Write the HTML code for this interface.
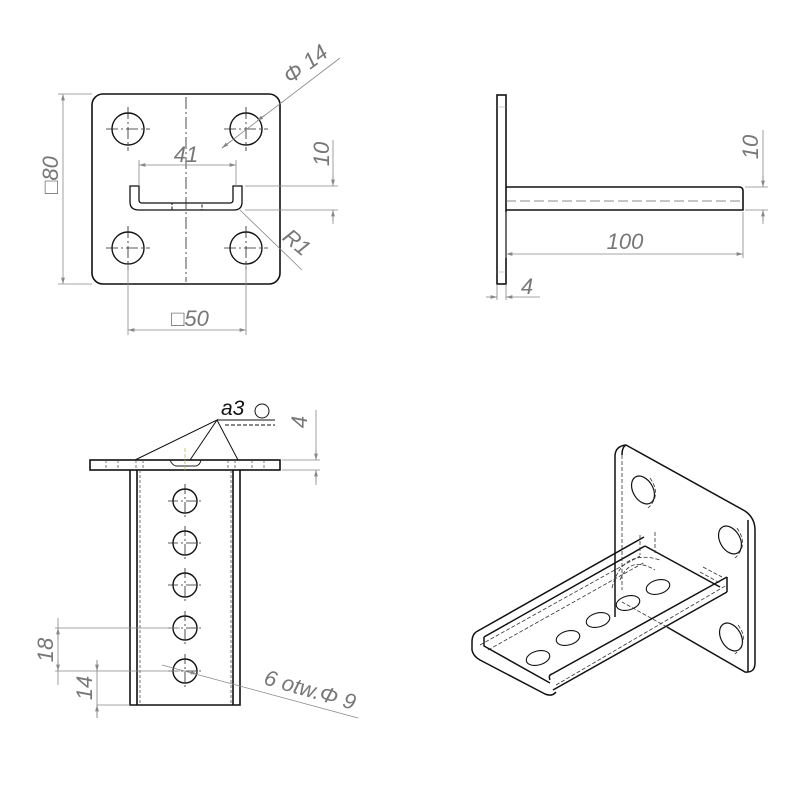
<!DOCTYPE html>
<html><head><meta charset="utf-8"><style>
html,body{margin:0;padding:0;background:#fff}
svg{display:block}
text{font-family:"Liberation Sans",sans-serif;font-style:italic;fill:#777}
</style></head><body>
<svg width="794" height="794" viewBox="0 0 794 794" xmlns="http://www.w3.org/2000/svg">
<defs>
<marker id="a" viewBox="0 0 10 6" refX="10" refY="3" markerWidth="8" markerHeight="5" orient="auto-start-reverse"><path d="M0,0L10,3L0,6z" fill="#888"/></marker>
</defs>
<!-- ============ TOP LEFT VIEW ============ -->
<g fill="none" stroke="#111" stroke-width="1.6">
<rect x="92" y="94" width="188" height="190" rx="11"/>
<g stroke-width="1.4">
<circle cx="128" cy="129" r="16"/><circle cx="246" cy="129" r="16"/>
<circle cx="128" cy="248" r="16"/><circle cx="246" cy="248" r="16"/>
</g>
<path d="M130,186 L139,186 L139,200 Q139,203 142,203 L230,203 Q233,203 233,200 L233,186 L242,186 L242,202 Q242,210 234,210 L139,210 Q130,210 130,202 Z" stroke-width="1.3"/>
<rect x="172" y="203" width="30" height="7" stroke-width="1" stroke-dasharray="3,1.5"/>
</g>
<g stroke="#222" stroke-width="0.8" fill="none" stroke-dasharray="12,3,2,3">
<path d="M186,97V282"/>
<path d="M106,129H150M128,107V151M224,129H268M246,107V151M106,248H150M128,226V270M224,248H268M246,226V270"/>
</g>
<g stroke="#888" stroke-width="0.8" fill="none">
<path d="M63,94V284" marker-start="url(#a)" marker-end="url(#a)"/>
<path d="M58,94H92M58,284H92"/>
<path d="M139,165H236" marker-start="url(#a)" marker-end="url(#a)"/>
<path d="M139,160V186M236,160V186"/>
<path d="M245,186H338M245,210H338M333,140V186M333,210V224"/>
<path d="M333,175V186" marker-end="url(#a)"/><path d="M333,221V210" marker-end="url(#a)"/>
<path d="M340,58L222,148" /><path d="M265,115L257,121" marker-end="url(#a)"/><path d="M222,148L231,141" marker-start="url(#a)"/>
<path d="M240,210L302,270"/>
<path d="M128,264V335M246,264V335"/>
<path d="M128,330H246" marker-start="url(#a)" marker-end="url(#a)"/>
</g>
<text x="186" y="162" font-size="22" text-anchor="middle">41</text>
<text x="190" y="326" font-size="22" text-anchor="middle">□50</text>
<text transform="translate(58,175) rotate(-90)" font-size="22" text-anchor="middle">□80</text>
<text transform="translate(329,154) rotate(-90)" font-size="22" text-anchor="middle">10</text>
<text transform="translate(310,70) rotate(-37)" font-size="22" text-anchor="middle">Φ 14</text>
<text transform="translate(292,248) rotate(40)" font-size="22" text-anchor="middle">R1</text>

<!-- ============ TOP RIGHT VIEW ============ -->
<g fill="none" stroke="#111" stroke-width="1.6">
<rect x="497" y="95" width="9" height="189"/>
<path d="M506,187H739Q743,187 743,191V210H506"/>
</g>
<path d="M506,201H743" stroke="#666" stroke-width="0.8" stroke-dasharray="10,4"/>
<path d="M497,107H506M497,272H506" stroke="#999" stroke-width="0.6"/>
<g stroke="#888" stroke-width="0.8" fill="none">
<path d="M745,187H768M745,210H768M763,130V187M763,210V224"/>
<path d="M763,176V187" marker-end="url(#a)"/><path d="M763,221V210" marker-end="url(#a)"/>
<path d="M743,212V258M506,212V258"/>
<path d="M506,254H743" marker-start="url(#a)" marker-end="url(#a)"/>
<path d="M497,284V300M506,284V300"/>
<path d="M486,297H497" marker-end="url(#a)"/><path d="M540,297H506" marker-end="url(#a)"/>
</g>
<text x="625" y="249" font-size="22" text-anchor="middle">100</text>
<text x="527" y="294" font-size="22" text-anchor="middle">4</text>
<text transform="translate(758,147) rotate(-90)" font-size="22" text-anchor="middle">10</text>

<!-- ============ BOTTOM LEFT VIEW ============ -->
<g fill="none" stroke="#111" stroke-width="1.6">
<rect x="90" y="460" width="190" height="10"/>
<path d="M130,470V705H240V470M137,470V705M233,470V705"/>
</g>
<g stroke="#555" stroke-width="0.8" fill="none" stroke-dasharray="3,2">
<path d="M140,470V705M231,470V705M106,460V470M118,460V470M252,460V470M264,460V470M136,460V470M143,460V470M228,460V470M235,460V470"/>
</g>
<path d="M170,460Q172,465 176,466H196Q200,465 201,460" stroke="#222" fill="none" stroke-width="1"/>
<path d="M185,448V470" stroke="#bb6" stroke-dasharray="4,2" stroke-width="0.8"/>
<g fill="none" stroke="#111" stroke-width="1.4">
<circle cx="185" cy="501" r="12"/><circle cx="185" cy="543" r="12"/><circle cx="185" cy="585" r="12"/><circle cx="185" cy="628" r="12"/><circle cx="185" cy="671" r="12"/>
</g>
<g stroke="#222" stroke-width="0.8" fill="none" stroke-dasharray="10,3,2,3">
<path d="M168,501H202M185,484V518M168,543H202M185,526V560M168,585H202M185,568V602M168,628H202M185,611V645M168,671H202M185,654V688"/>
</g>
<g stroke="#111" stroke-width="1" fill="none">
<path d="M135,460L217,420L190,460M217,420L238,460"/>
<path d="M217,420H275"/>
<path d="M225,425H275" stroke-dasharray="4,2"/>
<circle cx="262" cy="411" r="7"/>
</g>
<text x="221" y="415" font-size="21" style="fill:#111">a3</text>
<g stroke="#888" stroke-width="0.8" fill="none">
<path d="M282,460H320M282,470H320M316,410V460M316,470V485"/>
<path d="M316,450V460" marker-end="url(#a)"/><path d="M316,482V470" marker-end="url(#a)"/>
<path d="M55,628H180M55,671H180M58,618V685"/>
<path d="M58,640V628" marker-end="url(#a)"/><path d="M58,660V671" marker-end="url(#a)"/>
<path d="M97,660V718M97,705H130"/>
<path d="M97,660V671" marker-end="url(#a)"/><path d="M97,718V705" marker-end="url(#a)"/>
<path d="M162,665L358,718"/><path d="M180,670L197,674" marker-end="url(#a)"/>
</g>
<text transform="translate(308,697) rotate(16)" font-size="22" text-anchor="middle">6 otw.Φ 9</text>
<text transform="translate(307,422) rotate(-90)" font-size="22" text-anchor="middle">4</text>
<text transform="translate(53,650) rotate(-90)" font-size="22" text-anchor="middle">18</text>
<text transform="translate(92,688) rotate(-90)" font-size="22" text-anchor="middle">14</text>

<!-- ============ ISO VIEW ============ -->
<g fill="none" stroke="#111" stroke-width="1.5" stroke-linejoin="round">
<path d="M615,617V455Q616,446 626,445L745,511Q755,518 755,530V663Q755,673 745,672L667,627"/>
<path d="M626,445Q622,447 622,455" />
<path d="M748,520V672"/>
<g stroke-width="1.2">
<ellipse cx="643" cy="490" rx="10" ry="15" transform="rotate(-30 643 490)"/>
<ellipse cx="730" cy="540" rx="10" ry="15" transform="rotate(-30 730 540)"/>
<ellipse cx="731" cy="637" rx="10" ry="15" transform="rotate(-30 731 637)"/>
</g>
<!-- channel -->
<path d="M476,632L644,537"/>
<path d="M484,637L645,546"/>
<path d="M476,632Q472,635 472,642V650Q473,656 480,660L545,694Q552,697 556,692"/>
<path d="M484,637V646L550,683"/>
<path d="M550,680Q548,675 552,674L727,577"/>
<path d="M553,690L727,592"/>
<path d="M727,577V592"/>
<path d="M645,546L720,587"/>
<g stroke-width="1.1">
<ellipse cx="538" cy="658" rx="12" ry="7" transform="rotate(-15 538 658)"/>
<ellipse cx="568" cy="638" rx="12" ry="7" transform="rotate(-15 568 638)"/>
<ellipse cx="598" cy="620" rx="12" ry="7" transform="rotate(-15 598 620)"/>
<ellipse cx="628" cy="603" rx="12" ry="7" transform="rotate(-15 628 603)"/>
<ellipse cx="658" cy="587" rx="12" ry="7" transform="rotate(-15 658 587)"/>
</g>
</g>
<g fill="none" stroke="#333" stroke-width="0.8" stroke-dasharray="4,2">
<path d="M622,455V590"/>
<path d="M480,645L640,556M488,650L645,562M556,685L727,585"/>
<path d="M667,627L622,602"/>
<path d="M650,478Q662,495 648,508M737,528Q749,545 735,558M738,625Q750,640 735,654"/>
<path d="M640,535V555M655,532V553M703,567L722,577M700,572L720,583"/>
<path d="M620,580Q630,555 655,570M612,588Q622,548 660,560"/>
</g>
</svg>
</body></html>
